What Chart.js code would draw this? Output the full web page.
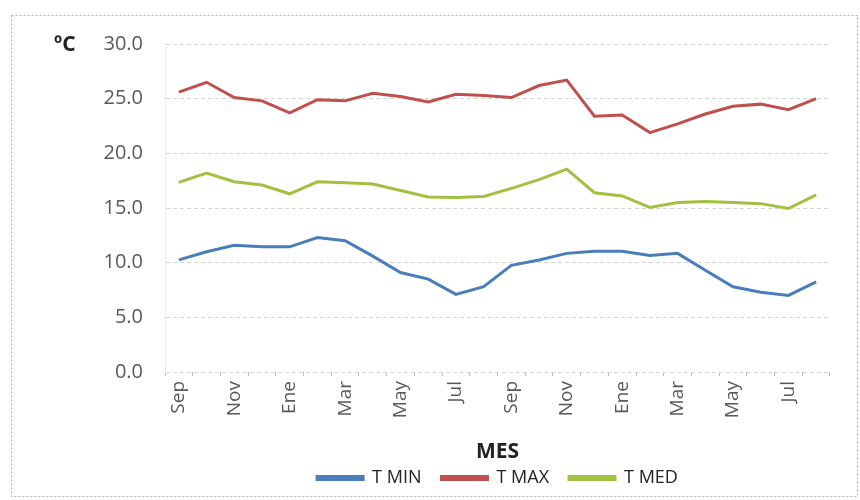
<!DOCTYPE html>
<html>
<head>
<meta charset="utf-8">
<script src="https://cdn.jsdelivr.net/npm/chart.js@4.4.0/dist/chart.umd.min.js"></script>
<style>
html, body { margin: 0; padding: 0; background: #fff; }
</style>
</head>
<body>
<canvas id="tempChart" width="860" height="500"></canvas>
<script>
const meses = ['Sep', 'Oct', 'Nov', 'Dic', 'Ene', 'Feb', 'Mar', 'Abr', 'May', 'Jun', 'Jul', 'Ago',
               'Sep', 'Oct', 'Nov', 'Dic', 'Ene', 'Feb', 'Mar', 'Abr', 'May', 'Jun', 'Jul', 'Ago'];

const tMin = [10.25, 11.0, 11.6, 11.45, 11.45, 12.3, 12.0, 10.6, 9.1, 8.5, 7.1, 7.8,
              9.75, 10.25, 10.85, 11.05, 11.05, 10.65, 10.85, 9.3, 7.8, 7.3, 7.0, 8.25];
const tMax = [25.6, 26.5, 25.1, 24.8, 23.7, 24.9, 24.8, 25.5, 25.2, 24.7, 25.4, 25.3,
              25.1, 26.2, 26.7, 23.4, 23.5, 21.9, 22.7, 23.6, 24.3, 24.5, 24.0, 25.0];
const tMed = [17.35, 18.2, 17.4, 17.1, 16.3, 17.4, 17.3, 17.2, 16.6, 16.0, 15.95, 16.05,
              16.8, 17.6, 18.55, 16.4, 16.1, 15.05, 15.5, 15.6, 15.5, 15.4, 14.95, 16.2];

const yTicks = [0, 5, 10, 15, 20, 25, 30];

const FUENTE = '"Open Sans", "Liberation Sans", sans-serif';
const GRIS = '#595959';
const OSCURO = '#222222';

// marco punteado del gráfico y unidad del eje vertical
const marco = {
    id: 'marco',
    beforeDraw(chart) {
        const ctx = chart.ctx;
        ctx.save();
        ctx.fillStyle = '#fff';
        ctx.fillRect(0, 0, chart.width, chart.height);
        ctx.strokeStyle = '#b5b5b5';
        ctx.lineWidth = 1;
        ctx.setLineDash([2, 2]);
        ctx.strokeRect(11.5, 15.5, 846, 481);
        ctx.restore();
    },
    afterDraw(chart) {
        const ctx = chart.ctx;
        ctx.save();
        ctx.font = 'bold 21px ' + FUENTE;
        ctx.fillStyle = OSCURO;
        ctx.textBaseline = 'middle';
        ctx.fillText('ºC', 54, 45);
        ctx.restore();
    }
};

const serie = (label, data, color) => ({
    label,
    data,
    borderColor: color,
    backgroundColor: color,
    borderWidth: 3,
    pointRadius: 0,
    tension: 0
});

new Chart(document.getElementById('tempChart'), {
    type: 'line',
    data: {
        labels: meses,
        datasets: [
            serie('T MIN', tMin, '#4a7ebb'),
            serie('T MAX', tMax, '#c0504d'),
            serie('T MED', tMed, '#a2c140')
        ]
    },
    options: {
        responsive: false,
        animation: false,
        layout: { padding: { top: 44, right: 30, bottom: 3, left: 0 } },
        scales: {
            x: {
                offset: true,
                afterFit(s) { s.height = 77; },
                grid: { offset: true, drawOnChartArea: false, tickLength: 4, color: '#bdbdbd' },
                border: { display: false },
                ticks: {
                    autoSkip: false,
                    maxRotation: 90,
                    minRotation: 90,
                    padding: 5,
                    color: GRIS,
                    font: { family: FUENTE, size: 19 },
                    callback(v, i) { return i % 2 === 0 ? this.getLabelForValue(v) : ''; }
                },
                title: {
                    display: true,
                    text: 'MES',
                    color: OSCURO,
                    font: { family: FUENTE, size: 21, weight: 'bold' },
                    padding: { top: 0, bottom: -16 }
                }
            },
            y: {
                min: 0,
                max: 30,
                afterFit(s) { s.width = 165; },
                afterBuildTicks(s) { s.ticks = yTicks.map(v => ({ value: v })); },
                grid: { color: '#d4d4d4', drawTicks: false },
                border: { display: true, color: '#eeeeee', dash: [4, 3] },
                ticks: {
                    padding: 22,
                    color: GRIS,
                    font: { family: FUENTE, size: 20 },
                    callback: v => v.toFixed(1)
                }
            }
        },
        plugins: {
            legend: {
                position: 'bottom',
                fullSize: false,
                labels: {
                    boxWidth: 46,
                    boxHeight: 3,
                    padding: 20,
                    color: OSCURO,
                    font: { family: FUENTE, size: 18 }
                }
            },
            tooltip: { enabled: false }
        }
    },
    plugins: [marco]
});
</script>
</body>
</html>
